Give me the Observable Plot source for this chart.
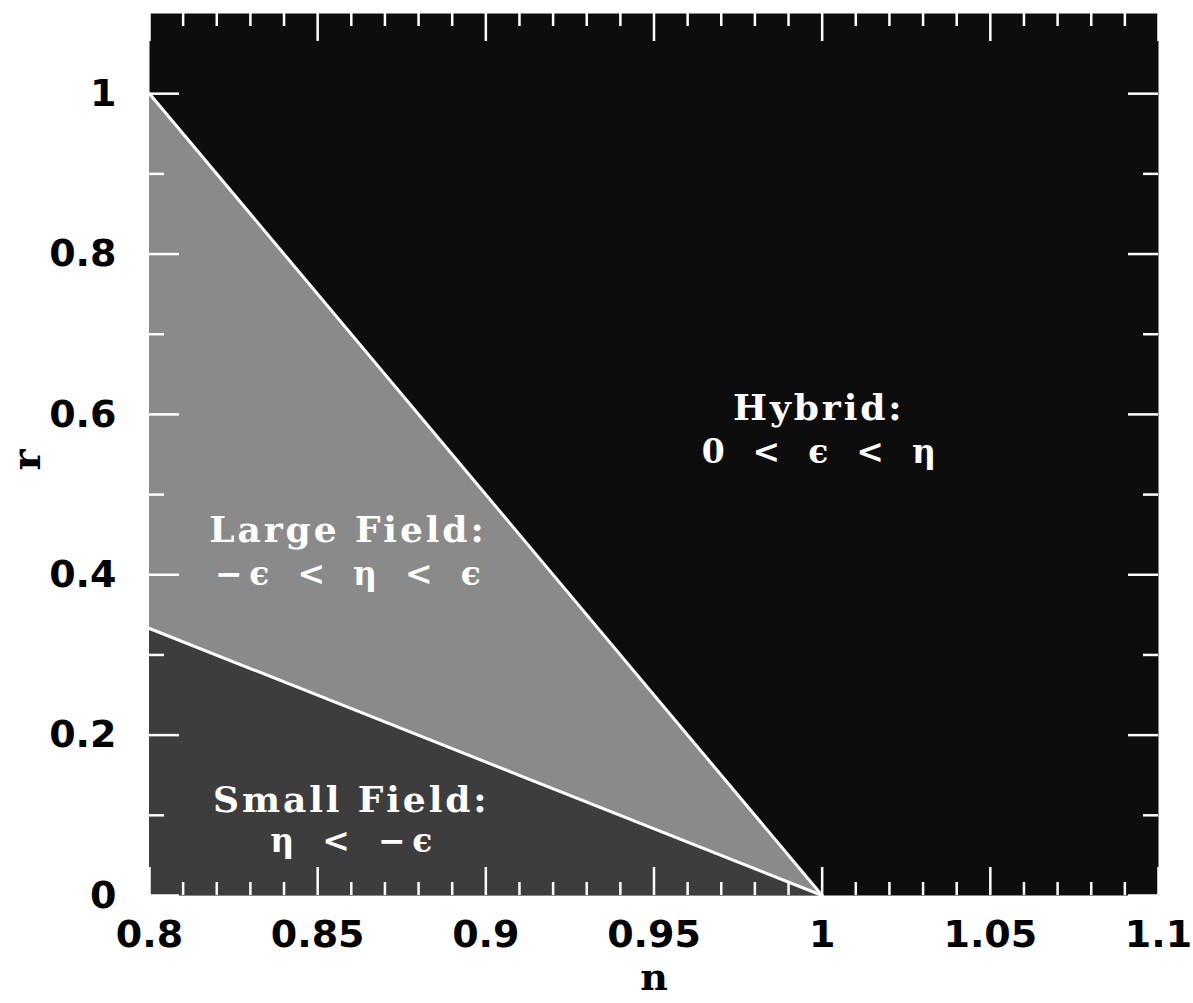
<!DOCTYPE html>
<html>
<head>
<meta charset="utf-8">
<script src="https://cdn.jsdelivr.net/npm/d3@7"></script>
<script src="https://cdn.jsdelivr.net/npm/@observablehq/plot@0.6"></script>
<style>
  html, body { margin: 0; padding: 0; background: #ffffff; }
  #chart { width: 1193px; height: 1003px; }
</style>
</head>
<body>
<div id="chart"></div>
<script>
// ---- data ----
const boundaryN = [0.8, 1.0];          // spectral index n at the ends of the boundaries
const hybridEdgeR = [1.0, 0.0];        // upper boundary (hybrid / large field)
const smallEdgeR = [0.333, 0.0];       // lower boundary (large field / small field)

const regionNames = ["Large Field:", "Hybrid:", "Small Field:"];
const regionConditions = ["\u2212\u2009\u03F5\u2002 <\u2002 \u03B7\u2002 <\u2002 \u03F5", "0\u2002 <\u2002 \u03F5\u2002 <\u2002 \u03B7", "\u03B7\u2002 <\u2002 \u2212\u2009\u03F5"];
const regionNameN = [0.859, 0.999, 0.860];
const regionNameR = [0.455, 0.607, 0.119];
const regionCondR = [0.401, 0.553, 0.068];

const xMajorTicks = [0.8, 0.85, 0.9, 0.95, 1.0, 1.05, 1.1];
const xTickLabels = ["0.8", "0.85", "0.9", "0.95", "1", "1.05", "1.1"];
const xMinorTicks = [0.81, 0.82, 0.83, 0.84, 0.86, 0.87, 0.88, 0.89, 0.91, 0.92, 0.93, 0.94,
                     0.96, 0.97, 0.98, 0.99, 1.01, 1.02, 1.03, 1.04, 1.06, 1.07, 1.08, 1.09];
const yMajorTicks = [0, 0.2, 0.4, 0.6, 0.8, 1.0];
const yTickLabels = ["0", "0.2", "0.4", "0.6", "0.8", "1"];
const yMinorTicks = [0.1, 0.3, 0.5, 0.7, 0.9];

// ---- layout ----
const W = 1193, H = 1003;
const mL = 149, mR = 35, mT = 13, mB = 108;
const innerW = W - mL - mR, innerH = H - mT - mB;
const idx = d3.range(boundaryN.length);

const cHybrid = "#0d0d0d", cLarge = "#8a8a8a", cSmall = "#3d3d3d";
const serif = "DejaVu Serif";
const sans = "DejaVu Sans";

const chart = Plot.plot({
  width: W, height: H,
  marginLeft: mL, marginRight: mR, marginTop: mT, marginBottom: mB,
  x: {domain: [0.8, 1.1]},
  y: {domain: [0, 1.1]},
  style: {background: "#ffffff"},
  marks: [
    Plot.frame({fill: cHybrid, stroke: null}),
    Plot.areaY(idx, {x: i => boundaryN[i], y1: i => smallEdgeR[i], y2: i => hybridEdgeR[i], fill: cLarge}),
    Plot.areaY(idx, {x: i => boundaryN[i], y1: 0, y2: i => smallEdgeR[i], fill: cSmall}),
    Plot.line(idx, {x: i => boundaryN[i], y: i => hybridEdgeR[i], stroke: "white", strokeWidth: 3}),
    Plot.line(idx, {x: i => boundaryN[i], y: i => smallEdgeR[i], stroke: "white", strokeWidth: 3}),
    // inward ticks on all four sides
    Plot.tickX(xMajorTicks, {x: d => d, stroke: "white", strokeWidth: 2.5, insetTop: innerH - 28}),
    Plot.tickX(xMinorTicks, {x: d => d, stroke: "white", strokeWidth: 2.5, insetTop: innerH - 13}),
    Plot.tickX(xMajorTicks, {x: d => d, stroke: "white", strokeWidth: 2.5, insetBottom: innerH - 28}),
    Plot.tickX(xMinorTicks, {x: d => d, stroke: "white", strokeWidth: 2.5, insetBottom: innerH - 13}),
    Plot.tickY(yMajorTicks, {y: d => d, stroke: "white", strokeWidth: 2.5, insetRight: innerW - 30}),
    Plot.tickY(yMinorTicks, {y: d => d, stroke: "white", strokeWidth: 2.5, insetRight: innerW - 15}),
    Plot.tickY(yMajorTicks, {y: d => d, stroke: "white", strokeWidth: 2.5, insetLeft: innerW - 30}),
    Plot.tickY(yMinorTicks, {y: d => d, stroke: "white", strokeWidth: 2.5, insetLeft: innerW - 15}),
    // axes labels
    Plot.axisX({anchor: "bottom", ticks: xMajorTicks, tickSize: 0, tickPadding: 25,
      tickFormat: (d, i) => xTickLabels[i], fontSize: 38, fontWeight: "bold", fontFamily: sans, label: null}),
    Plot.axisY({anchor: "left", ticks: yMajorTicks, tickSize: 0, tickPadding: 33,
      tickFormat: (d, i) => yTickLabels[i], fontSize: 38, fontWeight: "bold", fontFamily: sans, label: null}),
    Plot.text(["n"], {frameAnchor: "bottom", dy: 94, fontSize: 38, fontWeight: "bold", fontFamily: serif, fill: "black"}),
    Plot.text(["r"], {frameAnchor: "left", dx: -122, dy: 16, rotate: -90, fontSize: 40, fontWeight: "bold", fontFamily: serif, fill: "black"}),
    // region annotations
    Plot.text(regionNames, {x: (d, i) => regionNameN[i], y: (d, i) => regionNameR[i], text: d => d,
      fill: "white", fontSize: 36, fontWeight: "bold", fontFamily: serif}),
    Plot.text(regionConditions, {x: (d, i) => regionNameN[i], y: (d, i) => regionCondR[i], text: d => d,
      fill: "white", fontSize: 33, fontWeight: "bold", fontFamily: serif})
  ]
});
// wider tracking for the region names (the original typeface is broader)
d3.select(chart).selectAll("text").each(function() {
  if (regionNames.includes(this.textContent)) this.style.letterSpacing = "2.9px";
});
document.getElementById("chart").appendChild(chart);
</script>
</body>
</html>
